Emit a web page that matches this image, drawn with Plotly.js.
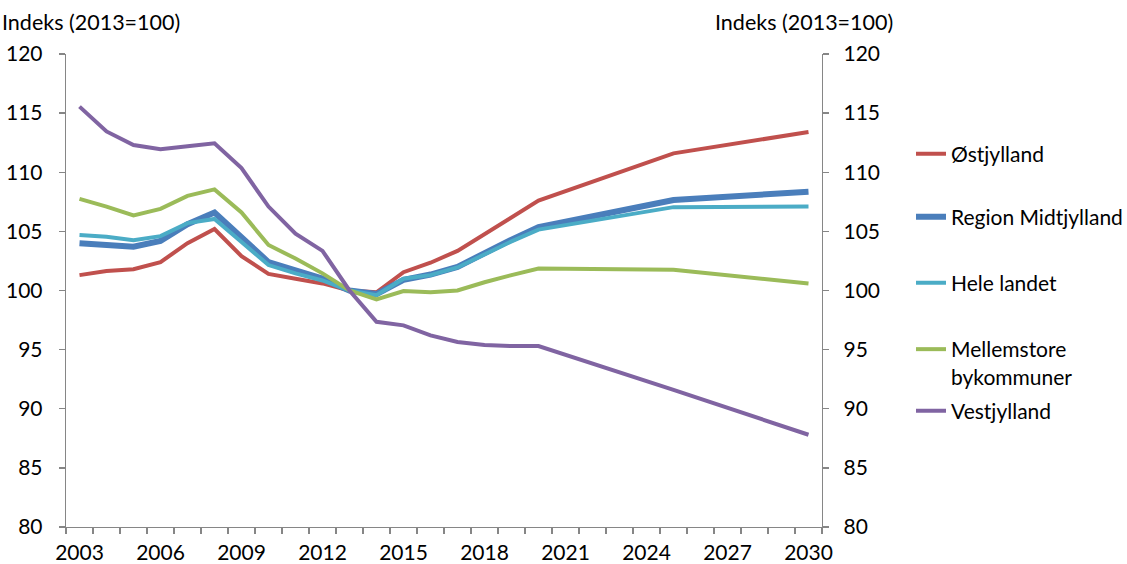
<!DOCTYPE html>
<html>
<head>
<meta charset="utf-8">
<script src="https://cdn.plot.ly/plotly-3.0.1.min.js"></script>
<style>
  html, body { margin: 0; padding: 0; background: #fff; }
  #chart { width: 1127px; height: 564px; }
</style>
</head>
<body>
<div id="chart"></div>
<script>
const years = [2003, 2004, 2005, 2006, 2007, 2008, 2009, 2010, 2011, 2012,
  2013, 2014, 2015, 2016, 2017, 2018, 2019, 2020, 2025, 2030];
const ostjylland = [101.3, 101.65, 101.8, 102.4, 104.0, 105.2, 102.9, 101.4, 101.0, 100.6,
  100, 99.85, 101.55, 102.35, 103.35, 104.75, 106.2, 107.6, 111.6, 113.4];
const regionMidtjylland = [104.0, 103.85, 103.7, 104.2, 105.6, 106.6, 104.5, 102.4, 101.7, 101.0,
  100, 99.7, 100.9, 101.35, 102.0, 103.2, 104.3, 105.35, 107.65, 108.35];
const heleLandet = [104.7, 104.55, 104.25, 104.6, 105.7, 106.05, 104.1, 102.15, 101.45, 100.85,
  100, 99.6, 101.0, 101.3, 101.95, 103.05, 104.15, 105.15, 107.05, 107.1];
const mellemstore = [107.75, 107.1, 106.35, 106.9, 108.0, 108.55, 106.6, 103.85, 102.7, 101.45,
  100, 99.25, 99.95, 99.85, 100.0, 100.7, 101.3, 101.85, 101.75, 100.6];
const vestjylland = [115.55, 113.45, 112.3, 111.95, 112.2, 112.45, 110.35, 107.1, 104.8, 103.35,
  100, 97.35, 97.05, 96.2, 95.65, 95.4, 95.3, 95.3, 91.6, 87.8];

const seriesNames = ['Østjylland', 'Region Midtjylland', 'Hele landet', 'Mellemstore<br>bykommuner', 'Vestjylland'];
const seriesValues = [ostjylland, regionMidtjylland, heleLandet, mellemstore, vestjylland];
const xTickLabels = [2003, 2006, 2009, 2012, 2015, 2018, 2021, 2024, 2027, 2030];

const COLORS = ['#C0504D', '#4A7EBB', '#4BACC6', '#9BBB59', '#8064A2'];
const WIDTHS = [4, 6, 4, 4, 4];
const FONT = 'Lato, "Open Sans", sans-serif';
const AXIS_GRAY = '#868686';
const FS = 21;

// plot area in px: x 66..822, y 54..527
const legendY = [154, 217, 283, 363, 411];
const legendKeys = ['legend', 'legend2', 'legend3', 'legend4', 'legend5'];

const traces = seriesValues.map((vals, i) => ({
  x: years,
  y: vals,
  name: seriesNames[i],
  type: 'scatter',
  mode: 'lines',
  line: { color: COLORS[i], width: WIDTHS[i] },
  legend: legendKeys[i],
  hoverinfo: 'skip',
}));

const layout = {
  width: 1127,
  height: 564,
  margin: { l: 66, r: 305, t: 54, b: 37, autoexpand: false },
  font: { family: FONT, size: FS, color: '#000' },
  plot_bgcolor: '#fff',
  paper_bgcolor: '#fff',
  xaxis: {
    range: [2002.5, 2030.5],
    tickmode: 'array',
    tickvals: xTickLabels,
    ticktext: xTickLabels.map(String),
    ticks: '',
    showgrid: false,
    zeroline: false,
    showline: true,
    linecolor: AXIS_GRAY,
    linewidth: 1.3,
    tickfont: { size: FS },
    minor: { ticks: 'outside', ticklen: 6, tickcolor: AXIS_GRAY, tickwidth: 1.3, tick0: 2002.5, dtick: 1, showgrid: false },
    ticklabelstandoff: 6,
  },
  yaxis: {
    range: [80, 120],
    dtick: 5,
    ticks: 'outside',
    ticklen: 6,
    tickcolor: AXIS_GRAY,
    tickwidth: 1.3,
    showgrid: false,
    zeroline: false,
    showline: true,
    linecolor: AXIS_GRAY,
    linewidth: 1.3,
    ticklabelstandoff: 12,
  },
  yaxis2: {
    range: [80, 120],
    dtick: 5,
    overlaying: 'y',
    side: 'right',
    ticks: 'outside',
    ticklen: 6,
    tickcolor: AXIS_GRAY,
    tickwidth: 1.3,
    showgrid: false,
    zeroline: false,
    showline: true,
    linecolor: AXIS_GRAY,
    linewidth: 1.3,
    ticklabelstandoff: 10,
  },
  annotations: [
    { text: 'Indeks (2013=100)', xref: 'paper', yref: 'paper', x: -66 / 756, y: (527 - 22) / 473,
      xanchor: 'left', yanchor: 'middle', showarrow: false, font: { size: 21.5 } },
    { text: 'Indeks (2013=100)', xref: 'paper', yref: 'paper', x: (895 - 66) / 756, y: (527 - 22) / 473,
      xanchor: 'right', yanchor: 'middle', showarrow: false, font: { size: 21.5 } },
  ],
  showlegend: true,
};

legendKeys.forEach((key, i) => {
  layout[key] = {
    x: (911 - 66) / 756,
    y: (527 - legendY[i]) / 473,
    xanchor: 'left',
    yanchor: 'middle',
    valign: 'top',
    bgcolor: 'rgba(0,0,0,0)',
    borderwidth: 0,
    font: { family: FONT, size: FS, color: '#000' },
  };
});

// dummy trace so the right axis is drawn
traces.push({ x: [years[0]], y: [null], yaxis: 'y2', showlegend: false, hoverinfo: 'skip', mode: 'lines' });

Plotly.newPlot('chart', traces, layout, { staticPlot: true });
</script>
</body>
</html>
